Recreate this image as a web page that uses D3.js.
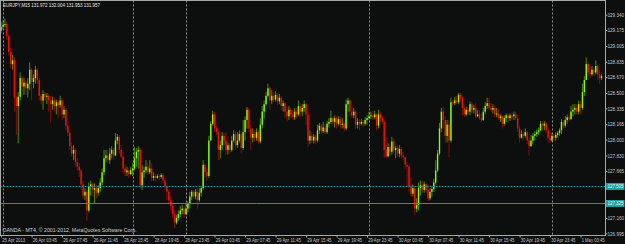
<!DOCTYPE html>
<html><head><meta charset="utf-8">
<script src="https://cdn.jsdelivr.net/npm/d3@7"></script>
<style>html,body{margin:0;padding:0;background:#0d0f0f;overflow:hidden}</style>
</head><body>
<svg id="c" width="625" height="244"></svg>
<script>
// ---------- data ----------
const symbolTitle = "EURJPY,M15  131.972 132.004 131.953 131.957";
const copyright = "OANDA - MT4, \u00A9 2001-2012, MetaQuotes Software Corp.";
const firstOpen = 129.17;   // open of the first bar; every later bar opens at the previous close
const closes = [
129.21,129.23,129.24,129.11,128.94,128.81,128.85,128.45,128.36,128.46,
128.66,128.57,128.61,128.55,128.60,128.75,128.62,128.66,128.75,128.64,
128.47,128.42,128.49,128.46,128.47,128.42,128.38,128.42,128.36,128.40,
128.37,128.42,128.27,128.32,128.15,128.07,127.93,127.85,127.89,127.76,
127.71,127.67,127.52,127.40,127.44,127.24,127.50,127.52,127.46,127.48,
127.43,127.48,127.54,127.65,127.80,127.83,127.78,127.85,127.89,127.83,
127.99,128.03,127.89,127.82,127.69,127.65,127.67,127.63,127.67,127.69,
127.80,127.87,127.89,127.51,127.65,127.67,127.71,127.65,127.69,127.59,
127.61,127.59,127.61,127.60,127.62,127.56,127.50,127.44,127.35,127.29,
127.20,127.11,127.16,127.20,127.24,127.26,127.20,127.26,127.31,127.39,
127.44,127.39,127.44,127.35,127.43,127.48,127.73,127.65,127.61,127.99,
128.17,128.27,128.12,128.08,127.89,127.94,128.04,127.99,127.89,127.94,
127.89,127.99,128.06,127.94,127.99,128.06,127.91,128.08,128.21,128.32,
128.12,128.02,128.06,128.02,128.08,127.98,128.16,128.30,128.38,128.47,
128.55,128.42,128.47,128.43,128.48,128.41,128.45,128.36,128.39,128.30,
128.25,128.32,128.27,128.24,128.30,128.27,128.36,128.30,128.34,128.38,
128.27,127.99,128.04,127.99,128.03,127.99,128.10,128.15,128.09,128.13,
128.08,128.17,128.19,128.23,128.19,128.23,128.17,128.22,128.16,128.17,
128.12,128.38,128.42,128.30,128.26,128.30,128.16,128.19,128.17,128.19,
128.17,128.21,128.23,128.25,128.26,128.24,128.27,128.15,128.27,128.23,
128.19,127.89,127.82,127.92,127.87,127.98,127.89,127.91,127.85,127.90,
127.83,127.81,127.73,127.71,127.50,127.42,127.48,127.26,127.30,127.48,
127.51,127.46,127.52,127.46,127.37,127.44,127.47,127.54,127.67,127.85,
128.12,128.30,128.21,128.04,128.16,127.99,128.40,128.39,128.42,128.40,
128.48,128.45,128.34,128.27,128.32,128.30,128.38,128.32,128.34,128.25,
128.27,128.23,128.21,128.30,128.36,128.39,128.34,128.32,128.34,128.27,
128.28,128.23,128.25,128.17,128.23,128.26,128.23,128.26,128.25,128.27,
128.23,128.12,128.02,128.06,128.04,128.08,127.99,127.93,127.99,128.04,
128.06,128.08,128.10,128.17,128.15,128.17,128.10,128.02,127.99,128.04,
128.02,128.05,128.07,128.10,128.19,128.15,128.21,128.24,128.22,128.30,
128.32,128.34,128.30,128.38,128.34,128.51,128.64,128.81,128.72,128.70,128.75,128.72,128.79,128.70,128.66,128.68];
const highs = [
129.26,129.28,129.30,129.26,129.13,128.98,128.91,128.88,128.47,128.51,
128.72,128.68,128.66,128.64,128.66,128.83,128.77,128.70,128.79,128.77,
128.66,128.49,128.53,128.51,128.50,128.49,128.47,128.46,128.45,128.43,
128.42,128.47,128.45,128.36,128.34,128.19,128.10,127.97,127.94,127.91,
127.80,127.75,127.69,127.56,127.48,127.46,127.54,127.56,127.54,127.53,
127.51,127.51,127.59,127.69,127.89,127.89,127.89,127.91,127.93,127.91,
128.07,128.06,128.05,127.94,127.87,127.73,127.71,127.69,127.71,127.75,
127.92,127.91,127.93,127.91,127.73,127.71,127.78,127.75,127.78,127.75,
127.65,127.63,127.63,127.63,127.64,127.64,127.59,127.51,127.46,127.39,
127.31,127.24,127.19,127.24,127.29,127.30,127.29,127.32,127.34,127.44,
127.46,127.46,127.47,127.48,127.48,127.50,127.78,127.74,127.69,128.04,
128.20,128.31,128.30,128.15,128.10,127.99,128.08,128.07,128.08,127.97,
127.96,128.04,128.10,128.09,128.08,128.10,128.09,128.21,128.25,128.35,
128.34,128.16,128.12,128.10,128.12,128.10,128.23,128.36,128.42,128.51,
128.60,128.57,128.53,128.51,128.52,128.50,128.49,128.47,128.42,128.40,
128.36,128.36,128.35,128.32,128.34,128.34,128.42,128.39,128.38,128.42,
128.39,128.30,128.10,128.08,128.06,128.05,128.16,128.18,128.17,128.19,
128.17,128.20,128.23,128.31,128.25,128.26,128.25,128.25,128.25,128.23,
128.19,128.43,128.45,128.43,128.36,128.34,128.32,128.23,128.22,128.22,
128.21,128.24,128.26,128.30,128.30,128.31,128.31,128.28,128.32,128.30,
128.26,128.21,128.02,127.96,127.96,128.03,128.01,127.93,127.94,127.94,
127.92,127.87,127.82,127.76,127.73,127.59,127.52,127.50,127.37,127.54,
127.56,127.56,127.55,127.53,127.51,127.48,127.50,127.58,127.78,127.89,
128.18,128.34,128.35,128.25,128.21,128.21,128.45,128.43,128.46,128.47,
128.50,128.50,128.46,128.36,128.35,128.35,128.41,128.40,128.37,128.39,
128.32,128.31,128.28,128.34,128.40,128.45,128.45,128.39,128.38,128.37,
128.34,128.33,128.27,128.26,128.26,128.28,128.28,128.28,128.28,128.30,
128.30,128.26,128.15,128.10,128.09,128.12,128.09,128.02,128.05,128.07,
128.09,128.11,128.13,128.20,128.20,128.20,128.19,128.12,128.08,128.07,
128.06,128.08,128.09,128.12,128.22,128.21,128.25,128.27,128.28,128.36,
128.38,128.38,128.38,128.42,128.41,128.60,128.68,128.88,128.83,128.79,128.79,128.78,128.85,128.80,128.75,128.70];
const lows = [
129.14,129.18,129.20,129.07,128.91,128.77,128.75,128.30,128.05,127.96,
128.42,128.51,128.48,128.48,128.45,128.53,128.42,128.55,128.60,128.60,
128.42,128.38,128.32,128.42,128.38,128.30,128.18,128.32,128.30,128.27,
128.23,128.34,128.21,128.23,128.10,128.04,127.89,127.82,127.78,127.71,
127.67,127.60,127.46,127.37,127.35,127.13,127.22,127.40,127.39,127.32,
127.37,127.40,127.44,127.51,127.62,127.76,127.75,127.74,127.80,127.78,
127.82,127.95,127.85,127.80,127.64,127.61,127.61,127.59,127.62,127.61,
127.67,127.71,127.69,127.48,127.46,127.59,127.64,127.62,127.63,127.55,
127.56,127.55,127.58,127.56,127.58,127.53,127.46,127.35,127.31,127.24,
127.16,127.05,127.09,127.13,127.17,127.20,127.16,127.19,127.22,127.26,
127.35,127.37,127.36,127.26,127.33,127.39,127.46,127.59,127.56,127.59,
127.99,128.15,128.08,128.05,127.78,127.80,127.89,127.94,127.84,127.84,
127.85,127.87,127.97,127.89,127.91,127.97,127.85,127.89,127.99,128.12,
128.08,127.89,127.97,127.98,127.99,127.95,127.96,128.12,128.23,128.36,
128.45,128.32,128.38,128.40,128.41,128.37,128.38,128.32,128.30,128.23,
128.19,128.21,128.23,128.21,128.21,128.23,128.25,128.24,128.25,128.30,
128.16,127.92,127.95,127.96,127.96,127.95,127.97,128.06,128.06,128.07,
128.06,128.06,128.13,128.17,128.15,128.13,128.12,128.15,128.12,128.12,
128.09,128.10,128.30,128.25,128.23,128.23,128.12,128.12,128.10,128.15,
128.13,128.15,128.16,128.21,128.22,128.21,128.22,128.10,128.12,128.19,
128.16,127.80,127.80,127.81,127.83,127.84,127.85,127.80,127.82,127.81,
127.80,127.78,127.69,127.49,127.44,127.39,127.39,127.19,127.22,127.24,
127.40,127.43,127.43,127.43,127.34,127.35,127.39,127.44,127.52,127.65,
127.83,128.08,128.12,127.97,127.97,127.81,127.97,128.36,128.37,128.38,
128.38,128.41,128.26,128.24,128.25,128.27,128.26,128.28,128.28,128.23,
128.24,128.21,128.19,128.20,128.27,128.33,128.32,128.30,128.28,128.24,
128.24,128.21,128.19,128.12,128.15,128.19,128.18,128.20,128.21,128.21,
128.21,128.08,127.97,128.01,127.99,128.02,127.95,127.83,127.92,127.95,
127.99,128.03,128.05,128.09,128.10,128.10,128.07,127.97,127.96,127.98,
127.98,127.99,128.02,128.04,128.06,128.12,128.13,128.17,128.19,128.21,
128.25,128.27,128.27,128.27,128.27,128.32,128.47,128.64,128.68,128.66,128.68,128.68,128.70,128.64,128.60,128.64];
const timeTickBars = [0,16,32,48,64,80,96,112,128,144,160,176,192,208,224,240,256,272,288,304];
const timeTickLabels = ["25 Apr 2013","26 Apr 03:45","26 Apr 07:45","26 Apr 11:45","26 Apr 15:45",
  "28 Apr 19:45","28 Apr 23:45","29 Apr 03:45","29 Apr 07:45","29 Apr 11:45","29 Apr 15:45",
  "29 Apr 19:45","29 Apr 23:45","30 Apr 03:45","30 Apr 07:45","30 Apr 11:45","30 Apr 15:45",
  "30 Apr 19:45","30 Apr 23:45","1 May 03:45"];
const priceTicks = [129.340,129.175,129.005,128.835,128.670,128.500,128.335,128.165,128.000,127.830,127.665,127.160,126.995];
const daySeparatorBars = [1,69,97,193,289];
const hLinePrices = [127.505,127.325];
const hLineLabels = ["127.505","127.325"];

// ---------- drawing ----------
const W = 625, H = 244;
const BG = "#0d0f0f", FG = "#c4c4c4", BULL = "#84ff00", BEAR = "#ff0a00", LINE = "#2a9292";
const FONT = "'Liberation Sans', Arial, sans-serif";
const pl = 0.5, pr = 605.5, pt = 0.5, pb = 235.5;

const svg = d3.select("#c");
svg.append("rect").attr("width", W).attr("height", H).attr("fill", BG);

const x = d3.scaleLinear().domain([0, closes.length - 1]).range([1.1, 601.5]);
const y = d3.scaleLinear().domain([126.995, 129.340]).range([233.3, 14.7]);

svg.append("clipPath").attr("id", "clip")
  .append("rect").attr("x", pl).attr("y", pt).attr("width", pr - pl).attr("height", pb - pt);
const plot = svg.append("g").attr("clip-path", "url(#clip)");

// day separators
plot.selectAll("line.sep").data(daySeparatorBars).join("line")
  .attr("class", "sep")
  .attr("x1", d => Math.round(x(d)) + 0.5).attr("x2", d => Math.round(x(d)) + 0.5)
  .attr("y1", pt).attr("y2", pb)
  .attr("stroke", "#8a8a8a").attr("stroke-width", 1).attr("stroke-dasharray", "2,2");

// candles
const bars = closes.map((c, i) => ({ i, o: i === 0 ? firstOpen : closes[i - 1], c, h: highs[i], l: lows[i] }));
const col = d => d.c >= d.o ? BULL : BEAR;
plot.selectAll("line.wick").data(bars).join("line")
  .attr("class", "wick")
  .attr("x1", d => x(d.i)).attr("x2", d => x(d.i))
  .attr("y1", d => y(d.h)).attr("y2", d => y(d.l))
  .attr("stroke", col).attr("stroke-width", 1).attr("stroke-opacity", 0.5);
plot.selectAll("rect.body").data(bars).join("rect")
  .attr("class", "body")
  .attr("x", d => x(d.i) - 0.7).attr("width", 1.4)
  .attr("y", d => Math.min(y(d.o), y(d.c)))
  .attr("height", d => Math.max(1, Math.abs(y(d.o) - y(d.c))))
  .attr("fill", col);

// horizontal lines
plot.selectAll("line.hl").data(hLinePrices).join("line")
  .attr("class", "hl")
  .attr("x1", pl).attr("x2", pr)
  .attr("y1", d => Math.round(y(d)) + 0.5).attr("y2", d => Math.round(y(d)) + 0.5)
  .attr("stroke", LINE).attr("stroke-width", 1)
  .attr("stroke-dasharray", (d, i) => i === 0 ? "2,1" : null);

// frame
svg.append("rect").attr("x", pl).attr("y", pt).attr("width", pr - pl).attr("height", pb - pt)
  .attr("fill", "none").attr("stroke", "#a8a8a8").attr("stroke-width", 1);

function fit(sel, w) { sel.attr("textLength", w).attr("lengthAdjust", "spacingAndGlyphs"); }

// price axis
const yAxis = svg.append("g").attr("transform", `translate(${pr},0)`)
  .call(d3.axisRight(y).tickValues(priceTicks).tickSize(2).tickPadding(0).tickFormat(d3.format(".3f")));
yAxis.select(".domain").remove();
yAxis.selectAll("line").attr("stroke", "#a8a8a8");
yAxis.selectAll("text").attr("fill", FG).attr("font-family", FONT).attr("font-size", 5)
  .attr("dy", "0.34em").call(fit, 16.5);

// time axis
const labelOf = new Map(timeTickBars.map((b, k) => [b, timeTickLabels[k]]));
const xAxis = svg.append("g").attr("transform", `translate(0,${pb})`)
  .call(d3.axisBottom(x).tickValues(timeTickBars).tickSize(2).tickPadding(1.2).tickFormat(d => labelOf.get(d)));
xAxis.select(".domain").remove();
xAxis.selectAll("line").attr("stroke", "#a8a8a8");
xAxis.selectAll("text").attr("fill", FG).attr("font-family", FONT).attr("font-size", 5)
  .attr("text-anchor", "start").attr("dx", 0.6)
  .each(function (d) { d3.select(this).call(fit, labelOf.get(d).length <= 11 ? 23 : 24.3); });

// horizontal line price labels
const hl = svg.append("g");
hl.selectAll("rect").data(hLinePrices).join("rect")
  .attr("x", pr + 0.5).attr("width", 18.5)
  .attr("y", d => Math.round(y(d)) - 3).attr("height", 7)
  .attr("fill", "#1fa0a0");
hl.selectAll("text").data(hLinePrices).join("text")
  .attr("x", pr + 2).attr("y", d => Math.round(y(d)) + 2.4)
  .attr("fill", "#eaffff").attr("font-family", FONT).attr("font-size", 5)
  .text((d, i) => hLineLabels[i]).call(fit, 16);

// header and watermark
svg.append("text").attr("x", 3).attr("y", 7.4).attr("fill", "#e6e6e6")
  .attr("font-family", FONT).attr("font-size", 5).text(symbolTitle).call(fit, 97);
svg.append("text").attr("x", 2.5).attr("y", 232.4).attr("fill", "#d0d0d0")
  .attr("font-family", FONT).attr("font-size", 5).text(copyright).call(fit, 134);
</script>
</body></html>
